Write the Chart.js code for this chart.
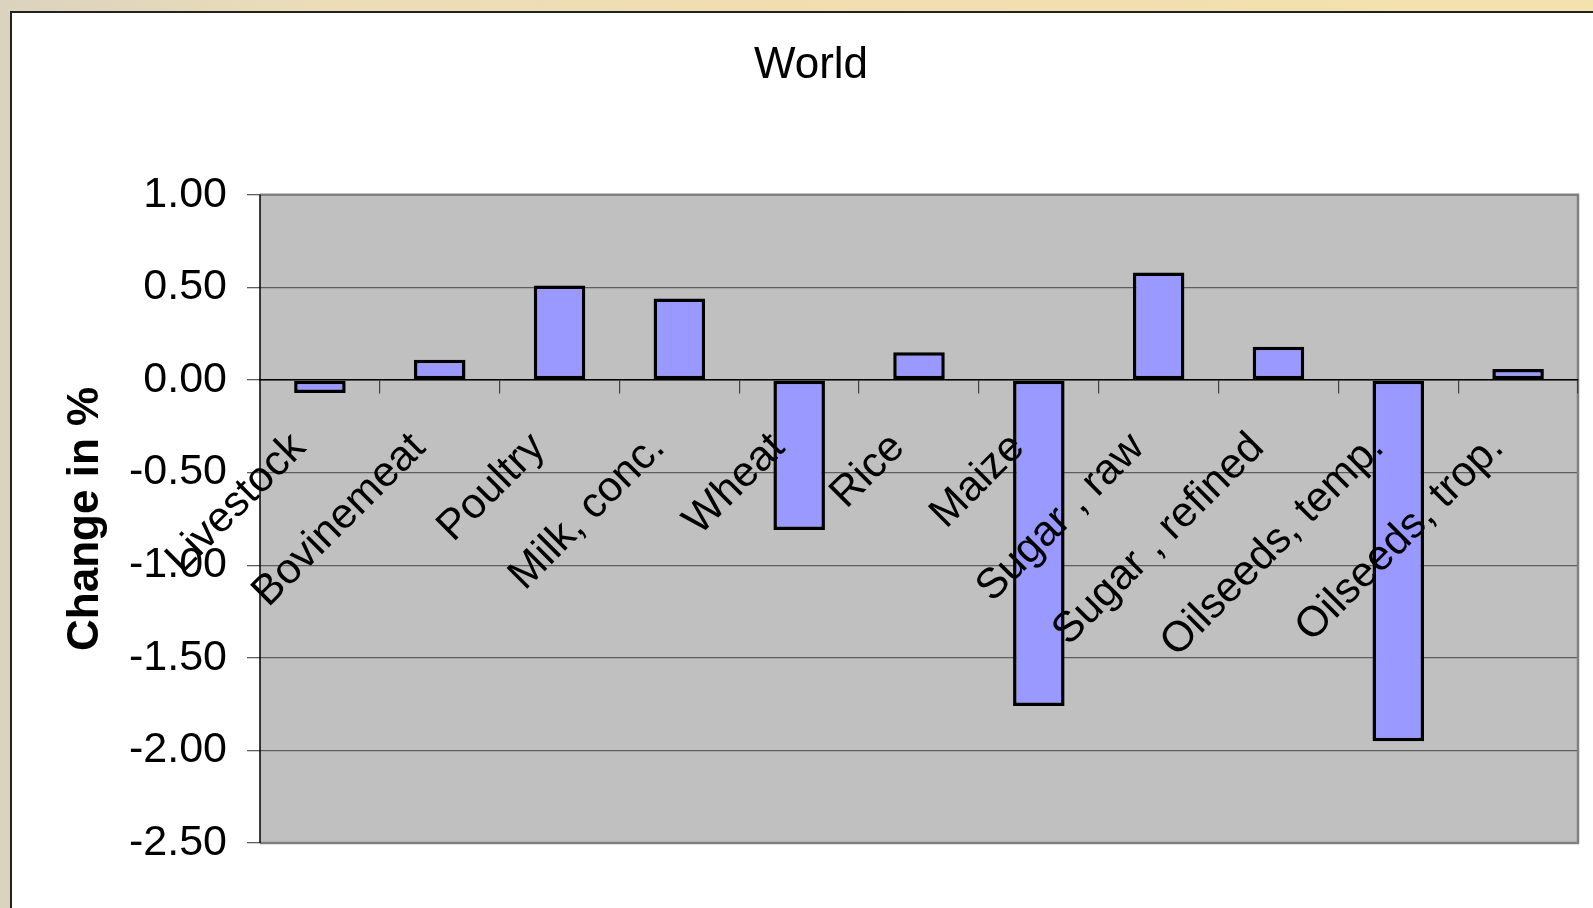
<!DOCTYPE html>
<html>
<head>
<meta charset="utf-8">
<script src="https://cdn.jsdelivr.net/npm/chart.js@4.4.1/dist/chart.umd.min.js"></script>
<style>
  html, body { margin: 0; padding: 0; width: 1593px; height: 908px; overflow: hidden; }
  body { background: linear-gradient(to right, #DCD3BF 0%, #EBDDB8 20%, #F2DDB0 50%, #F3E2AE 100%); position: relative; }
  #panel { position: absolute; left: 10px; top: 11px; width: 1640px; height: 960px; background: #fff; border-left: 2px solid #222; border-top: 2px solid #222; }
  #wrap { position: absolute; left: 0; top: 0; width: 1593px; height: 908px; }
</style>
</head>
<body>
<div id="panel"></div>
<div id="wrap"><canvas id="c" width="1593" height="908"></canvas></div>
<script>
const chartTitle = 'World';
const yAxisTitle = 'Change in %';
const categories = ['Livestock', 'Bovinemeat', 'Poultry', 'Milk, conc.', 'Wheat', 'Rice', 'Maize', 'Sugar , raw', 'Sugar , refined', 'Oilseeds, temp.', 'Oilseeds, trop.'];
const changes = [-0.07, 0.11, 0.51, 0.44, -0.81, 0.15, -1.76, 0.58, 0.18, -1.95, 0.06];
const yMin = -2.5;
const yMax = 1.0;
const yStep = 0.5;

const FONT = '"Liberation Sans", Arial, "DejaVu Sans", sans-serif';

const plotFrame = {
  id: 'plotFrame',
  beforeDraw(chart) {
    const a = chart.chartArea;
    const ctx = chart.ctx;
    ctx.save();
    ctx.fillStyle = '#C0C0C0';
    ctx.fillRect(a.left, a.top, a.right - a.left, a.bottom - a.top);
    ctx.restore();
  },
  beforeDatasetsDraw(chart) {
    const a = chart.chartArea;
    const ctx = chart.ctx;
    ctx.save();
    ctx.strokeStyle = '#808080';
    ctx.lineWidth = 2.5;
    ctx.beginPath();
    ctx.moveTo(a.left, a.top);
    ctx.lineTo(a.right, a.top);
    ctx.lineTo(a.right, a.bottom);
    ctx.lineTo(a.left, a.bottom);
    ctx.stroke();
    ctx.strokeStyle = '#000';
    ctx.lineWidth = 1.5;
    ctx.beginPath();
    ctx.moveTo(a.left, a.top);
    ctx.lineTo(a.left, a.bottom);
    ctx.stroke();
    ctx.restore();
  }
};

new Chart(document.getElementById('c'), {
  type: 'bar',
  data: {
    labels: categories,
    datasets: [{
      data: changes,
      backgroundColor: '#9999FF',
      borderColor: '#000000',
      borderWidth: 3.5,
      borderSkipped: false,
      categoryPercentage: 1.0,
      barPercentage: 0.43
    }]
  },
  options: {
    responsive: false,
    animation: false,
    devicePixelRatio: 1,
    layout: { padding: { left: 44, right: 15, top: 0, bottom: 65 } },
    plugins: {
      legend: { display: false },
      tooltip: { enabled: false },
      title: {
        display: true,
        text: chartTitle,
        color: '#000',
        font: { family: FONT, size: 44, weight: 'normal' },
        padding: { top: 39, bottom: 103 }
      }
    },
    scales: {
      x: {
        position: { y: 0 },
        offset: true,
        border: { display: true, color: '#000', width: 1.5, z: 1 },
        grid: { drawOnChartArea: false, drawTicks: true, tickLength: 13, color: '#404040', lineWidth: 1.2, offset: true, z: 1 },
        ticks: {
          z: 1,
          autoSkip: false,
          minRotation: 45,
          maxRotation: 45,
          padding: 30,
          labelOffset: -21,
          color: '#000',
          font: { family: FONT, size: 42.5 }
        }
      },
      y: {
        min: yMin,
        max: yMax,
        afterFit(scale) { scale.width = 216; },
        border: { display: false },
        grid: { color: '#5e5e5e', lineWidth: 1.3, drawTicks: true, tickLength: 13 },
        ticks: {
          stepSize: yStep,
          padding: 20,
          color: '#000',
          font: { family: FONT, size: 43 },
          callback: (v) => Number(v).toFixed(2)
        },
        title: {
          display: true,
          text: yAxisTitle,
          color: '#000',
          font: { family: FONT, size: 44, weight: 'bold' },
          padding: { top: 15, bottom: 0 }
        }
      }
    }
  },
  plugins: [plotFrame]
});
</script>
</body>
</html>
